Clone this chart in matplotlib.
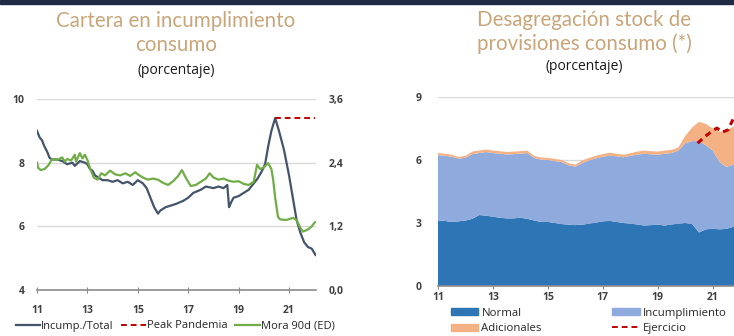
import matplotlib
matplotlib.use("Agg")
import matplotlib.pyplot as plt
from matplotlib.patches import Rectangle, Patch
from matplotlib.lines import Line2D

plt.rcParams['font.family'] = ['Open Sans', 'DejaVu Sans']

# Left chart: Cartera en incumplimiento consumo
inc_years = [11.0, 11.1, 11.2, 11.3, 11.4, 11.5, 11.6, 11.8, 12.0, 12.2, 12.4, 12.5, 12.7, 12.9,
             13.0, 13.1, 13.2, 13.3, 13.4, 13.6, 13.8, 14.0, 14.2, 14.4, 14.6, 14.8, 15.0, 15.2,
             15.35, 15.5, 15.65, 15.8, 15.9, 16.1, 16.3, 16.5, 16.8, 17.0, 17.2, 17.5, 17.7, 18.0,
             18.2, 18.4, 18.55, 18.62, 18.7, 18.8, 19.0, 19.2, 19.4, 19.6, 19.75, 19.9, 20.05, 20.17,
             20.3, 20.45, 20.6, 20.8, 21.0, 21.15, 21.3, 21.45, 21.6, 21.75, 21.9, 22.05]
inc_total = [9.0, 8.8, 8.7, 8.5, 8.35, 8.15, 8.1, 8.1, 8.05, 7.95, 8.0, 7.9, 8.05, 8.0,
             7.95, 7.8, 7.75, 7.6, 7.55, 7.45, 7.45, 7.4, 7.45, 7.35, 7.4, 7.3, 7.45, 7.35,
             7.2, 6.9, 6.6, 6.4, 6.5, 6.6, 6.65, 6.7, 6.8, 6.9, 7.05, 7.15, 7.25, 7.2,
             7.25, 7.2, 7.3, 6.6, 6.75, 6.9, 6.95, 7.05, 7.15, 7.35, 7.5, 7.7, 7.95, 8.5,
             9.0, 9.4, 9.0, 8.4, 7.6, 6.9, 6.2, 5.8, 5.5, 5.35, 5.3, 5.1]

peak_years = [20.45, 22.05]
peak_value = [9.4, 9.4]

mora_years = [11.0, 11.05, 11.15, 11.3, 11.45, 11.6, 11.8, 12.0, 12.1, 12.2, 12.35, 12.5, 12.55,
              12.7, 12.8, 12.9, 13.0, 13.1, 13.25, 13.4, 13.55, 13.7, 13.9, 14.1, 14.3, 14.5,
              14.7, 14.9, 15.0, 15.2, 15.4, 15.6, 15.8, 16.0, 16.2, 16.4, 16.6, 16.75, 16.9, 17.1,
              17.3, 17.5, 17.7, 17.85, 18.0, 18.2, 18.4, 18.6, 18.8, 19.0, 19.2, 19.4, 19.6, 19.73,
              19.85, 20.0, 20.17, 20.3, 20.37, 20.45, 20.56, 20.65, 20.9, 21.16, 21.3, 21.45, 21.55,
              21.75, 21.9, 22.03]
mora_90d = [2.4, 2.3, 2.26, 2.28, 2.35, 2.47, 2.45, 2.5, 2.42, 2.47, 2.44, 2.55, 2.42,
            2.58, 2.48, 2.55, 2.45, 2.3, 2.12, 2.08, 2.2, 2.16, 2.25, 2.18, 2.16, 2.2,
            2.15, 2.22, 2.18, 2.12, 2.08, 2.1, 2.08, 2.02, 1.98, 2.05, 2.15, 2.26, 2.12, 1.96,
            1.98, 2.04, 2.1, 2.2, 2.12, 2.08, 2.1, 2.06, 2.04, 2.05, 2.0, 1.98, 2.04, 2.36,
            2.28, 2.31, 2.39, 2.28, 2.08, 1.74, 1.38, 1.33, 1.32, 1.36, 1.32, 1.17, 1.1,
            1.14, 1.2, 1.28]

# Right chart: Desagregación stock de provisiones consumo
prov_years = [11.0, 11.25, 11.5, 11.75, 12.0, 12.25, 12.5, 12.75, 13.0, 13.25, 13.5, 13.75,
              14.0, 14.25, 14.5, 14.75, 15.0, 15.25, 15.5, 15.75, 16.0, 16.25, 16.5, 16.75,
              17.0, 17.25, 17.5, 17.75, 18.0, 18.25, 18.5, 18.75, 19.0, 19.25, 19.5, 19.75,
              20.0, 20.25, 20.5, 20.75, 21.0, 21.25, 21.5, 21.75, 22.0]
normal = [3.12, 3.1, 3.05, 3.08, 3.12, 3.2, 3.38, 3.35, 3.3, 3.25, 3.22, 3.22,
          3.25, 3.2, 3.12, 3.05, 3.05, 3.0, 2.95, 2.92, 2.9, 2.92, 2.97, 3.02,
          3.08, 3.1, 3.05, 3.0, 2.97, 2.93, 2.88, 2.9, 2.92, 2.88, 2.93, 2.97,
          3.0, 2.95, 2.55, 2.7, 2.72, 2.7, 2.72, 2.82, 2.9]
incumplimiento = [3.11, 3.10, 3.10, 2.99, 2.98, 3.08, 2.95, 3.03, 3.03, 3.05, 3.04, 3.06,
                  3.05, 3.13, 2.98, 2.97, 2.95, 2.95, 2.95, 2.83, 2.78, 2.94, 3.01, 3.06,
                  3.08, 3.10, 3.13, 3.13, 3.23, 3.32, 3.42, 3.37, 3.33, 3.42, 3.40, 3.48,
                  3.80, 3.95, 4.35, 4.0, 3.73, 3.2, 2.95, 2.96, 3.0]
adicionales = [0.1, 0.1, 0.1, 0.08, 0.1, 0.12, 0.12, 0.12, 0.12, 0.12, 0.12, 0.12,
               0.12, 0.12, 0.1, 0.1, 0.1, 0.1, 0.1, 0.1, 0.1, 0.12, 0.12, 0.12,
               0.12, 0.15, 0.12, 0.12, 0.12, 0.15, 0.15, 0.15, 0.15, 0.15, 0.15, 0.15,
               0.35, 0.65, 0.92, 1.02, 1.05, 1.45, 1.73, 1.82, 1.95]

ejercicio_years = [20.45, 20.7, 20.9, 21.15, 21.35, 21.55, 21.76, 22.0]
ejercicio = [6.8, 7.1, 7.3, 7.52, 7.33, 7.43, 8.0, 8.4]

title_color = "#C9A57A"
tick_color = "#404040"

W, H = 734, 336
fig = plt.figure(figsize=(W / 100, H / 100), dpi=100)
fig.add_artist(Rectangle((0, 1 - 4 / H), 1, 4 / H, transform=fig.transFigure,
                         color="#1F2A44", zorder=10))

# ---- left chart ----
ax1 = fig.add_axes([37 / W, 1 - 290 / H, (316 - 37) / W, (290 - 99) / H])
ax2 = ax1.twinx()
ax1.set_xlim(11, 22.07)
ax1.set_ylim(4, 10)
ax2.set_ylim(0, 3.6)
ax1.set_yticks([4, 6, 8, 10])
ax2.set_yticks([0, 1.2, 2.4, 3.6])
ax2.set_yticklabels(["0,0", "1,2", "2,4", "3,6"])
ax1.set_xticks([11, 13, 15, 17, 19, 21])
for a in (ax1, ax2):
    for s in a.spines.values():
        s.set_visible(False)
ax1.spines["bottom"].set_visible(True)
ax1.spines["bottom"].set_color("#8C8C8C")
ax1.spines["bottom"].set_linewidth(1.2)
ax1.grid(axis="y", color="#D9D9D9", linewidth=1)
ax1.tick_params(axis="y", length=0, pad=9, labelsize=7.5, labelcolor=tick_color)
ax2.tick_params(axis="y", length=0, pad=9, labelsize=7.5, labelcolor=tick_color)
ax1.tick_params(axis="x", direction="inout", length=5, color="#8C8C8C", pad=8,
                labelsize=7.5, labelcolor=tick_color)
for lab in ax1.get_xticklabels() + ax1.get_yticklabels() + ax2.get_yticklabels():
    lab.set_fontweight("bold")

l1, = ax1.plot(inc_years, inc_total, color="#44546A", linewidth=1.6, label="Incump./Total")
l2, = ax1.plot(peak_years, peak_value, color="#C00000", linewidth=1.4, linestyle=(0, (3, 2)),
               label="Peak Pandemia")
l3, = ax2.plot(mora_years, mora_90d, color="#70AD47", linewidth=1.6, label="Mora 90d (ED)")

fig.legend(handles=[l1, l2, l3], loc="center left", bbox_to_anchor=(10 / W, 1 - 326 / H),
           ncol=3, frameon=False, fontsize=8, handlelength=2.2, handletextpad=0.1,
           columnspacing=0.7, borderpad=0, labelcolor="#262626")

fig.text(176 / W, 1 - 33 / H, "Cartera en incumplimiento\nconsumo", ha="center", va="center",
         fontsize=14.8, color=title_color, family=["Lato", "DejaVu Sans"], linespacing=1.3)
fig.text(176 / W, 1 - 71 / H, "(porcentaje)", ha="center", va="center", fontsize=10,
         color="#1A1A1A")

# ---- right chart ----
ax3 = fig.add_axes([438 / W, 1 - 286 / H, (743 - 438) / W, (286 - 97) / H])
ax3.set_xlim(11, 22.1)
ax3.set_ylim(0, 9)
ax3.set_yticks([0, 3, 6, 9])
ax3.set_xticks([11, 13, 15, 17, 19, 21])
for s in ax3.spines.values():
    s.set_visible(False)
ax3.spines["bottom"].set_visible(True)
ax3.spines["bottom"].set_color("#8C8C8C")
ax3.spines["bottom"].set_linewidth(1.2)
ax3.set_axisbelow(True)
ax3.grid(axis="y", color="#D9D9D9", linewidth=1)
ax3.tick_params(axis="y", length=0, pad=12, labelsize=7.5, labelcolor=tick_color)
ax3.tick_params(axis="x", direction="inout", length=5, color="#8C8C8C", pad=2,
                labelsize=7.5, labelcolor=tick_color)
for lab in ax3.get_xticklabels() + ax3.get_yticklabels():
    lab.set_fontweight("bold")

ax3.stackplot(prov_years, normal, incumplimiento, adicionales,
              colors=["#2E75B6", "#8FAADC", "#F4B183"], linewidth=0)
ax3.plot(ejercicio_years, ejercicio, color="#C00000", linewidth=2.2, linestyle=(0, (2, 1.5)))

handles = [Patch(color="#2E75B6", label="Normal"),
           Patch(color="#F4B183", label="Adicionales"),
           Patch(color="#8FAADC", label="Incumplimiento"),
           Line2D([], [], color="#C00000", linestyle=(0, (3, 2)), linewidth=1.4, label="Ejercicio")]
fig.legend(handles=handles, loc="upper left", bbox_to_anchor=(445 / W, 1 - 302 / H), ncol=2,
           frameon=False, fontsize=8.2, handlelength=2.4, handleheight=0.6, handletextpad=0.3,
           columnspacing=6.2, labelspacing=0.4, borderpad=0, labelcolor="#262626")

fig.text(584 / W, 1 - 32 / H, "Desagregación stock de\nprovisiones consumo (*)", ha="center",
         va="center", fontsize=14.8, color=title_color, family=["Lato", "DejaVu Sans"],
         linespacing=1.2)
fig.text(584 / W, 1 - 66 / H, "(porcentaje)", ha="center", va="center", fontsize=10,
         color="#1A1A1A")

fig.savefig("out.png", dpi=100)
